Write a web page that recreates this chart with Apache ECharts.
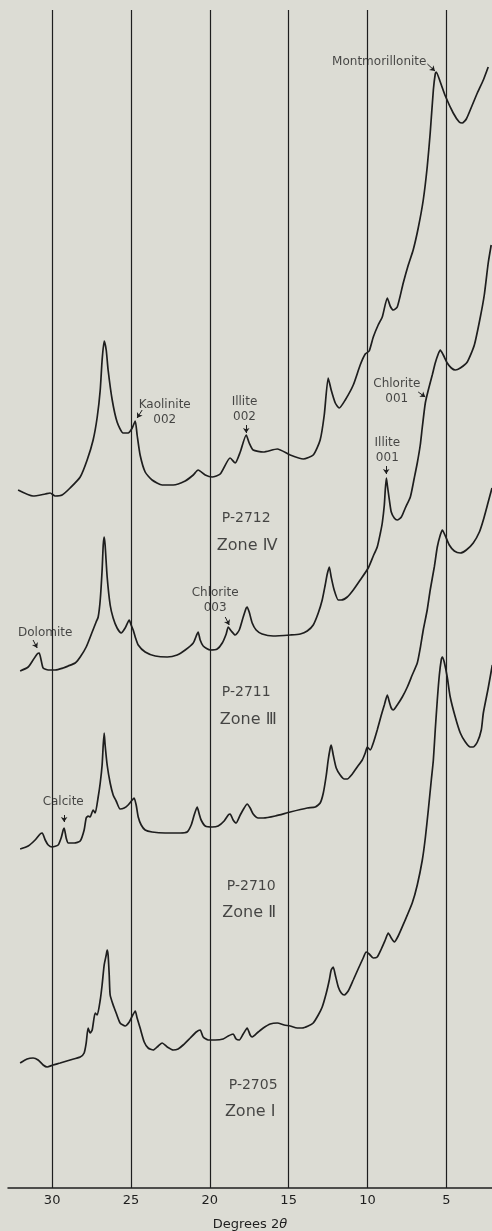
<!DOCTYPE html>
<html>
<head>
<meta charset="utf-8">
<script src="https://cdn.jsdelivr.net/npm/echarts@6/dist/echarts.min.js"></script>
<style>
html,body{margin:0;padding:0;background:#dcdcd4;}
#chart{width:492px;height:1231px;}
</style>
</head>
<body>
<div id="chart"></div>
<script>
// X-ray diffraction traces: [degrees 2θ, relative intensity (stacked, arbitrary units)]
const p2712 = [[32.16,69.8],[31.21,69.2],[30.44,69.4],[30.13,69.5],[29.81,69.2],[29.37,69.3],[28.86,70.0],[28.22,71.1],[27.78,72.8],[27.40,74.8],[27.14,77.1],[26.95,79.8],[26.83,82.8],[26.70,84.7],[26.57,83.8],[26.45,81.8],[26.19,78.8],[25.88,76.6],[25.50,75.5],[25.18,75.5],[24.92,76.0],[24.73,76.7],[24.61,75.3],[24.42,73.3],[24.10,71.6],[23.66,70.8],[23.02,70.3],[22.32,70.3],[21.56,70.7],[21.05,71.3],[20.74,71.8],[20.29,71.3],[19.85,71.1],[19.34,71.4],[18.71,73.0],[18.39,72.5],[18.07,73.6],[17.69,75.3],[17.50,74.5],[17.25,73.8],[16.61,73.6],[15.72,73.9],[14.90,73.3],[14.07,72.9],[13.44,73.3],[13.00,74.8],[12.74,77.3],[12.49,81.0],[12.30,79.8],[12.04,78.5],[11.79,78.0],[11.41,78.8],[10.90,80.3],[10.46,82.3],[10.14,83.4],[9.89,83.7],[9.63,85.1],[9.32,86.3],[9.06,87.1],[8.74,89.0],[8.56,88.2],[8.36,87.8],[8.11,88.1],[7.73,90.5],[7.41,92.3],[7.10,93.8],[6.78,96.0],[6.46,98.8],[6.21,102.1],[6.02,105.5],[5.82,109.8],[5.70,111.4],[5.64,111.6],[5.38,110.6],[5.06,109.2],[4.56,107.5],[4.18,106.6],[3.99,106.5],[3.73,106.9],[3.35,108.3],[3.03,109.5],[2.65,110.8],[2.34,112.1]];
const p2711 = [[32.03,51.7],[31.52,52.1],[31.21,52.8],[30.95,53.4],[30.82,53.5],[30.70,52.8],[30.57,52.0],[30.25,51.8],[29.81,51.8],[29.30,52.0],[28.98,52.2],[28.54,52.5],[28.22,53.1],[27.84,54.1],[27.46,55.6],[27.21,56.6],[27.08,57.1],[26.95,58.8],[26.83,61.8],[26.76,64.3],[26.70,65.1],[26.64,64.3],[26.51,61.1],[26.32,58.3],[26.13,57.0],[25.88,56.0],[25.62,55.5],[25.37,56.0],[25.11,56.8],[24.99,56.3],[24.86,55.8],[24.73,55.1],[24.54,54.3],[24.10,53.6],[23.46,53.2],[22.70,53.1],[22.07,53.3],[21.56,53.8],[21.05,54.5],[20.86,55.2],[20.74,55.6],[20.61,54.8],[20.42,54.2],[19.97,53.8],[19.53,53.9],[19.21,54.5],[18.96,55.4],[18.83,56.1],[18.64,55.7],[18.39,55.3],[18.13,55.8],[17.88,57.1],[17.69,58.0],[17.63,58.1],[17.50,57.6],[17.31,56.5],[17.06,55.8],[16.68,55.4],[15.98,55.2],[14.90,55.3],[14.26,55.4],[13.82,55.7],[13.44,56.3],[13.12,57.5],[12.87,58.8],[12.68,60.3],[12.55,61.4],[12.42,62.1],[12.30,61.1],[12.11,59.8],[11.85,58.8],[11.66,58.8],[11.28,59.1],[10.90,59.8],[10.46,60.8],[9.95,62.0],[9.63,63.2],[9.38,64.1],[9.18,65.5],[9.06,66.5],[8.93,68.3],[8.87,69.8],[8.80,71.0],[8.74,70.3],[8.61,68.8],[8.49,67.6],[8.30,67.0],[8.11,66.8],[7.85,67.1],[7.60,68.0],[7.28,69.1],[7.03,71.0],[6.84,72.5],[6.65,74.3],[6.52,76.1],[6.33,78.5],[6.14,79.8],[5.89,81.3],[5.70,82.5],[5.51,83.4],[5.38,83.8],[5.19,83.3],[4.94,82.5],[4.68,82.0],[4.43,81.8],[4.11,82.0],[3.67,82.6],[3.22,84.3],[2.84,87.1],[2.59,89.3],[2.34,92.5],[2.15,94.3]];
const p2710 = [[32.03,33.9],[31.52,34.2],[31.08,34.8],[30.76,35.4],[30.63,35.5],[30.44,34.8],[30.25,34.3],[30.00,34.1],[29.62,34.3],[29.43,35.0],[29.30,35.8],[29.24,36.0],[29.11,35.0],[28.98,34.5],[28.60,34.5],[28.22,34.7],[27.97,35.8],[27.84,37.0],[27.72,37.2],[27.59,37.1],[27.40,37.8],[27.27,37.5],[27.08,39.1],[26.95,40.5],[26.83,42.3],[26.76,44.3],[26.70,45.5],[26.64,44.3],[26.51,42.3],[26.32,40.5],[26.13,39.3],[25.94,38.7],[25.69,37.9],[25.43,38.0],[25.18,38.3],[24.92,38.8],[24.80,39.0],[24.67,38.3],[24.54,37.1],[24.35,36.3],[24.10,35.8],[23.66,35.6],[22.83,35.5],[21.88,35.5],[21.44,35.6],[21.18,36.3],[20.99,37.3],[20.80,38.1],[20.67,37.4],[20.55,36.8],[20.29,36.2],[19.85,36.1],[19.47,36.2],[19.09,36.7],[18.83,37.3],[18.71,37.4],[18.52,36.8],[18.33,36.5],[18.07,37.3],[17.82,38.0],[17.63,38.4],[17.44,38.0],[17.25,37.4],[16.93,37.0],[16.61,37.0],[15.85,37.2],[14.90,37.6],[13.82,38.0],[13.31,38.1],[13.00,38.5],[12.80,39.5],[12.61,41.3],[12.49,42.8],[12.36,44.0],[12.30,44.3],[12.17,43.3],[11.98,42.0],[11.73,41.3],[11.47,40.9],[11.28,40.9],[10.96,41.4],[10.65,42.1],[10.33,42.8],[10.14,43.5],[10.01,44.1],[9.82,43.8],[9.63,44.5],[9.38,45.8],[9.12,47.3],[8.93,48.3],[8.74,49.3],[8.61,48.6],[8.49,48.0],[8.36,47.8],[8.11,48.3],[7.79,49.1],[7.47,50.1],[7.16,51.3],[6.84,52.5],[6.65,54.0],[6.46,55.8],[6.21,57.8],[6.02,59.8],[5.76,62.1],[5.57,64.1],[5.38,65.3],[5.25,65.8],[5.06,65.2],[4.81,64.3],[4.49,63.7],[4.11,63.5],[3.73,63.8],[3.29,64.5],[2.90,65.6],[2.65,66.8],[2.34,68.6],[2.10,70.0]];
const p2705 = [[32.03,12.5],[31.59,12.9],[31.21,13.0],[30.89,12.8],[30.57,12.3],[30.32,12.1],[29.94,12.3],[29.49,12.5],[28.86,12.8],[28.22,13.1],[27.97,13.5],[27.84,14.5],[27.72,16.0],[27.59,15.5],[27.46,15.8],[27.27,17.5],[27.14,17.3],[26.95,18.8],[26.83,20.3],[26.70,22.3],[26.57,23.3],[26.51,23.8],[26.45,23.3],[26.38,21.3],[26.32,19.3],[26.13,18.3],[25.94,17.5],[25.69,16.5],[25.37,16.2],[25.11,16.6],[24.92,17.2],[24.73,17.7],[24.61,17.0],[24.42,16.0],[24.16,14.6],[23.91,14.0],[23.59,13.8],[23.27,14.2],[23.02,14.5],[22.70,14.1],[22.32,13.8],[22.01,13.9],[21.69,14.3],[21.24,15.0],[20.86,15.6],[20.61,15.8],[20.42,15.1],[20.10,14.8],[19.66,14.8],[19.15,14.9],[18.83,15.2],[18.52,15.4],[18.33,14.9],[18.13,14.8],[17.88,15.4],[17.63,16.0],[17.44,15.3],[17.31,15.1],[16.93,15.6],[16.61,16.0],[16.17,16.4],[15.72,16.5],[15.28,16.3],[14.90,16.2],[14.45,16.0],[14.14,16.0],[13.76,16.2],[13.44,16.5],[13.12,17.3],[12.87,18.1],[12.61,19.5],[12.42,20.8],[12.30,21.8],[12.17,22.1],[12.04,21.3],[11.85,20.1],[11.66,19.5],[11.47,19.3],[11.22,19.7],[10.90,20.8],[10.59,21.9],[10.27,23.0],[10.08,23.6],[9.89,23.4],[9.63,23.0],[9.38,23.1],[9.12,23.9],[8.87,24.8],[8.68,25.5],[8.49,25.0],[8.30,24.6],[8.05,25.2],[7.66,26.6],[7.16,28.5],[6.84,30.3],[6.52,32.8],[6.33,35.0],[6.14,37.8],[5.95,40.8],[5.82,42.8],[5.70,45.8],[5.57,48.8],[5.44,51.3],[5.32,52.8],[5.25,53.1],[5.13,52.6],[4.94,51.1],[4.75,49.1],[4.43,47.1],[4.11,45.5],[3.79,44.6],[3.48,44.1],[3.29,44.1],[3.03,44.6],[2.78,45.8],[2.65,47.5],[2.34,50.0],[2.08,52.3]];

const tickLabels = [30, 25, 20, 15, 10, 5];
const sampleNames = ['P-2712', 'P-2711', 'P-2710', 'P-2705'];
const zoneNames = ['Zone Ⅳ', 'Zone Ⅲ', 'Zone Ⅱ', 'Zone Ⅰ'];
const peakNames = ['Montmorillonite', 'Kaolinite\n002', 'Illite\n002', 'Chlorite\n001', 'Illite\n001', 'Chlorite\n003', 'Dolomite', 'Calcite'];

// annotation placement (layout only)
const sampleAt = [[17.69,67.0],[17.69,49.6],[17.37,30.2],[17.25,10.3]];
const zoneAt = [[17.63,64.2],[17.56,46.8],[17.50,27.5],[17.44,7.6]];
const peakAt = [[9.25,112.6],[22.86,77.6],[17.8,77.9],[8.14,79.7],[8.74,73.8],[19.66,58.8],[30.44,55.5],[29.30,38.6]];
const arrows = [
  [[6.2,112.4],[5.72,111.7]],
  [[24.29,77.8],[24.61,77.0]],
  [[17.69,76.3],[17.69,75.5]],
  [[6.78,79.6],[6.33,79.1]],
  [[8.81,72.2],[8.81,71.4]],
  [[19.02,57.1],[18.77,56.3]],
  [[31.21,54.8],[30.95,54.0]],
  [[29.24,37.3],[29.24,36.6]]
];

const INK = '#1e1e1e';
const FONT = '"DejaVu Sans", "Noto Sans", sans-serif';

const chart = echarts.init(document.getElementById('chart'), null, {renderer: 'canvas'});

function traceSeries(name, data, extra) {
  return Object.assign({
    name: name,
    type: 'line',
    data: data,
    showSymbol: false,
    symbol: 'none',
    smooth: 0.2,
    lineStyle: {color: INK, width: 1.7},
    animation: false,
    silent: true,
    z: 3
  }, extra || {});
}

const textItems = [];
sampleNames.forEach((n, i) => textItems.push({value: sampleAt[i], name: n, label: {fontSize: 14}}));
zoneNames.forEach((n, i) => textItems.push({value: zoneAt[i], name: n, label: {fontSize: 16}}));
peakNames.forEach((n, i) => textItems.push({value: peakAt[i], name: n, label: {fontSize: 12, lineHeight: 15}}));

const option = {
  backgroundColor: '#dcdcd4',
  animation: false,
  grid: {left: 8, right: 0, top: 10, bottom: 43, containLabel: false, outerBoundsMode: 'none'},
  xAxis: {
    type: 'value',
    inverse: true,
    min: 2.1,
    max: 32.8,
    axisLine: {show: true, lineStyle: {color: INK, width: 1.5}},
    axisTick: {show: false},
    splitLine: {show: false},
    axisLabel: {customValues: tickLabels, color: INK, fontSize: 13, fontFamily: FONT, margin: 6},
    name: 'Degrees 2{i|θ}',
    nameLocation: 'middle',
    nameGap: 30,
    nameTextStyle: {color: INK, fontSize: 13, fontFamily: FONT, rich: {i: {fontStyle: 'italic', fontSize: 13, fontFamily: FONT, color: INK}}}
  },
  yAxis: {type: 'value', min: 0, max: 117.8, show: false},
  series: [
    traceSeries(sampleNames[0], p2712, {
      markLine: {
        silent: true, symbol: 'none', animation: false,
        label: {show: false},
        lineStyle: {color: INK, width: 1.2, type: 'solid'},
        data: tickLabels.map(v => ({xAxis: v}))
      }
    }),
    traceSeries(sampleNames[1], p2711),
    traceSeries(sampleNames[2], p2710),
    traceSeries(sampleNames[3], p2705),
    {
      name: 'annotations',
      type: 'scatter',
      symbolSize: 0,
      silent: true,
      animation: false,
      z: 5,
      data: textItems,
      label: {show: true, position: 'inside', formatter: '{b}', color: INK, fontFamily: FONT, align: 'center', verticalAlign: 'middle', textBorderWidth: 0},
      markLine: {
        silent: true, animation: false,
        symbol: ['none', 'arrow'], symbolSize: 5,
        label: {show: false},
        lineStyle: {color: INK, width: 1, type: 'solid'},
        data: arrows.map(a => [{coord: a[0]}, {coord: a[1]}])
      }
    }
  ]
};
chart.setOption(option);
</script>
</body>
</html>
